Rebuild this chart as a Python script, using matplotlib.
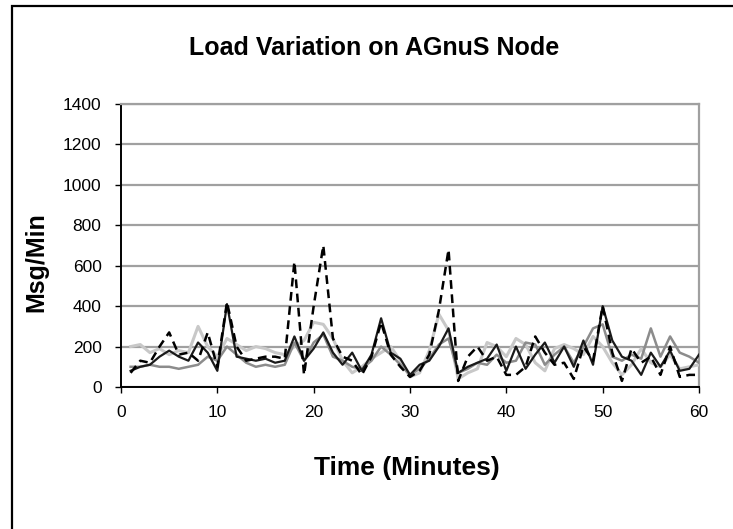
import matplotlib
matplotlib.use("Agg")
import matplotlib.pyplot as plt
from matplotlib.patches import Rectangle

minutes = list(range(1, 61))

series_dashed = [70, 130, 120, 200, 270, 160, 170, 130, 270, 100,
                 420, 200, 130, 140, 150, 150, 140, 620, 60, 400,
                 700, 240, 150, 130, 60, 150, 320, 160, 100, 50,
                 80, 160, 380, 680, 30, 150, 200, 130, 150, 60,
                 60, 100, 250, 170, 110, 120, 40, 200, 130, 400,
                 170, 30, 190, 120, 150, 60, 200, 50, 60, 60]

series_black = [80, 100, 110, 150, 180, 150, 130, 220, 170, 80,
                410, 150, 140, 130, 140, 120, 130, 250, 130, 190,
                270, 170, 110, 170, 80, 160, 340, 170, 140, 60,
                110, 130, 200, 290, 70, 100, 120, 140, 210, 80,
                200, 90, 160, 220, 120, 200, 100, 230, 110, 400,
                230, 150, 130, 60, 170, 100, 180, 80, 90, 160]

series_gray = [100, 100, 110, 100, 100, 90, 100, 110, 150, 130,
               200, 160, 120, 100, 110, 100, 110, 220, 130, 220,
               260, 150, 130, 100, 90, 130, 200, 160, 110, 60,
               90, 140, 210, 240, 70, 90, 120, 110, 160, 120,
               130, 220, 210, 110, 160, 200, 120, 200, 290, 310,
               150, 130, 160, 140, 290, 150, 250, 170, 150, 120]

series_light = [200, 210, 170, 190, 160, 180, 170, 300, 200, 150,
                240, 210, 180, 200, 190, 170, 160, 200, 230, 320,
                310, 240, 130, 70, 100, 140, 170, 200, 130, 50,
                70, 180, 360, 280, 40, 70, 90, 220, 200, 150,
                240, 210, 120, 80, 190, 210, 190, 160, 250, 200,
                120, 60, 110, 190, 120, 100, 160, 90, 100, 110]

x_ticks = [0, 10, 20, 30, 40, 50, 60]
y_ticks = [0, 200, 400, 600, 800, 1000, 1200, 1400]

title = "Load Variation on AGnuS Node"
xlabel = "Time (Minutes)"
ylabel = "Msg/Min"

plt.rcParams['font.family'] = ['Liberation Sans', 'DejaVu Sans']

fig = plt.figure(figsize=(7.33, 5.29), dpi=100)
fig.patch.set_facecolor('white')

# outer chart frame
fig.patches.append(Rectangle((12 / 733, -0.05), 1.1, 1 - 6 / 529 + 0.05,
                             transform=fig.transFigure, fill=False,
                             edgecolor='black', linewidth=1.6))

ax = fig.add_axes([121 / 733, 1 - 387 / 529, 578 / 733, 283 / 529])

ax.plot(minutes, series_light, color='#c8c8c8', lw=2.2, zorder=3)
ax.plot(minutes, series_gray, color='#8c8c8c', lw=1.8, zorder=4)
ax.plot(minutes, series_black, color='#1a1a1a', lw=1.6, zorder=5)
ax.plot(minutes, series_dashed, color='black', lw=1.8, ls=(0, (3.5, 2.2)), zorder=6)

ax.set_xlim(0, 60)
ax.set_ylim(0, 1400)
ax.set_xticks(x_ticks)
ax.set_yticks(y_ticks)
ax.tick_params(axis='both', labelsize=12.5, length=4, width=1, direction='out')
ax.tick_params(axis='x', pad=9)
ax.tick_params(axis='y', pad=10)

ax.grid(axis='y', color='#a0a0a0', lw=1.6)
ax.set_axisbelow(True)
for s in ['top', 'right']:
    ax.spines[s].set_color('#a0a0a0')
    ax.spines[s].set_linewidth(1.6)
for s in ['left', 'bottom']:
    ax.spines[s].set_color('black')
    ax.spines[s].set_linewidth(1.4)

fig.text(374 / 733, 1 - 48 / 529, title, ha='center', va='center', fontsize=18, fontweight='bold')
fig.text(407 / 733, 1 - 468 / 529, xlabel, ha='center', va='center', fontsize=19, fontweight='bold')
fig.text(36 / 733, 1 - 262 / 529, ylabel, ha='center', va='center', fontsize=18, fontweight='bold', rotation=90)

fig.savefig('out.png', dpi=100)
